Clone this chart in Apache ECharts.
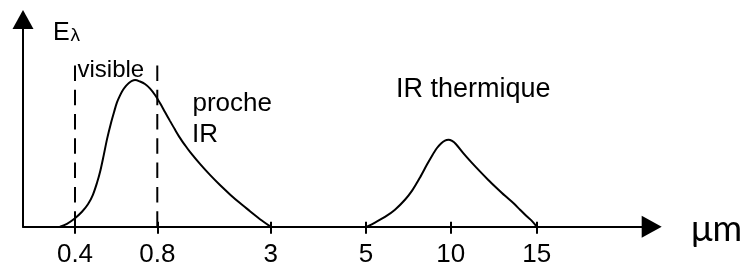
<!DOCTYPE html>
<html>
<head>
<meta charset="utf-8">
<script src="https://cdn.jsdelivr.net/npm/echarts@6/dist/echarts.min.js"></script>
<style>
  html, body { margin: 0; padding: 0; background: #fff; }
  #chart { width: 749px; height: 265px; }
</style>
</head>
<body>
<div id="chart"></div>
<script>
// ---- data (wavelength in µm, spectral emittance Eλ in arbitrary units 0–100) ----
const tickLambda = [0.4, 0.8, 3, 5, 10, 15];
const tickLabels = ['0.4', '0.8', '3', '5', '10', '15'];
// schematic (not to scale) axis position of each tick, axis runs 0–100
const tickAxisPos = [8.27, 21.36, 39.40, 54.56, 68.03, 81.71];

const visibleLambda = [0.327, 0.361, 0.400, 0.434, 0.463, 0.487, 0.507, 0.522, 0.539, 0.556, 0.575, 0.590, 0.604, 0.619, 0.633, 0.648, 0.662, 0.677, 0.692, 0.716, 0.740, 0.765, 0.789, 0.852, 0.949, 1.046, 1.143, 1.240, 1.337, 1.434, 1.628, 1.822, 2.016, 2.210, 2.404, 2.598, 2.792, 3.0];
const visibleE      = [0,     1.4,   4.1,   7.2,   10.8,  15.4,  21.2,  26.5,  34.2,  42.4,  50.1,  55.4,  60.0,  63.4,  66.0,  68.0,  69.4,  70.4,  70.8,  70.1,  68.9,  66.7,  63.6,  59.7,  55.4,  51.1,  46.9,  42.9,  39.4,  36.1,  30.3,  25.0,  20.1,  15.6,  11.4,  7.5,   3.6,   0];

const thermalLambda = [5.06, 5.53, 6.12, 6.71, 7.30, 7.72, 8.19, 8.60, 8.90, 9.19, 9.43, 9.66, 9.87, 10.08, 10.31, 10.73, 11.18, 11.70, 12.17, 12.67, 13.16, 13.64, 14.03, 14.42, 14.73, 15.0];
const thermalE      = [0,    2.0,  4.7,  8.2,  13.0, 17.4, 23.8, 30.0, 34.3, 38.0, 40.2, 41.6, 42.0, 41.4,  39.8,  35.5,  31.3,  26.7,  22.7,  18.7,  14.9,  11.4,  8.2,   5.0,   2.7,   0];

const boundaryLambda = [0.4, 0.8];
const boundaryTopE = 77.8;

// piecewise-linear schematic scale: wavelength -> axis position
function toAxis(l) {
  const n = tickLambda.length;
  let i = 0;
  if (l <= tickLambda[0]) i = 0;
  else if (l >= tickLambda[n - 1]) i = n - 2;
  else { while (l > tickLambda[i + 1]) i++; }
  const t = (l - tickLambda[i]) / (tickLambda[i + 1] - tickLambda[i]);
  return tickAxisPos[i] + t * (tickAxisPos[i + 1] - tickAxisPos[i]);
}
function pairs(ls, es) { return ls.map((l, i) => [toAxis(l), es[i]]); }
function tickLabel(v) {
  for (let i = 0; i < tickAxisPos.length; i++) if (Math.abs(tickAxisPos[i] - v) < 1e-6) return tickLabels[i];
  return '';
}

const black = '#000';
const chart = echarts.init(document.getElementById('chart'), null, { renderer: 'canvas' });
chart.setOption({
  animation: false,
  backgroundColor: '#fff',
  textStyle: { fontFamily: 'Liberation Sans, Arial, sans-serif', color: black },
  grid: { left: 23, right: 97.3, top: 19.6, bottom: 38.3, containLabel: false, outerBoundsMode: 'none' },
  xAxis: [{
    type: 'value', min: 0, max: 100, position: 'bottom',
    axisLine: { show: true, onZero: false, symbol: ['none', 'triangle'], symbolSize: [22, 20],
                lineStyle: { color: black, width: 2 } },
    axisTick: { show: true, inside: false, length: 7, customValues: tickAxisPos,
                lineStyle: { color: black, width: 2 } },
    axisLabel: { show: true, customValues: tickAxisPos, formatter: tickLabel, margin: 15,
                 fontSize: 26, color: black, fontFamily: 'Liberation Sans' },
    splitLine: { show: false }
  }, {
    type: 'value', min: 0, max: 100, position: 'bottom', offset: 0,
    axisLine: { show: false, onZero: false },
    axisTick: { show: true, inside: true, length: 5, customValues: tickAxisPos,
                lineStyle: { color: black, width: 2 } },
    axisLabel: { show: false },
    splitLine: { show: false }
  }],
  yAxis: {
    type: 'value', min: 0, max: 100,
    axisLine: { show: true, onZero: false, symbol: ['none', 'triangle'], symbolSize: [21, 19],
                lineStyle: { color: black, width: 2 } },
    axisTick: { show: false },
    axisLabel: { show: false },
    splitLine: { show: false }
  },
  series: [
    { type: 'line', data: pairs(visibleLambda, visibleE), smooth: 0.3, symbol: 'none',
      lineStyle: { color: black, width: 2 } },
    { type: 'line', data: pairs(thermalLambda, thermalE), smooth: 0.3, symbol: 'none',
      lineStyle: { color: black, width: 2 } },
    ...boundaryLambda.map(l => ({
      type: 'line', data: [[toAxis(l), 0], [toAxis(l), boundaryTopE]], symbol: 'none',
      lineStyle: { color: black, width: 2, type: [15.5, 8.8] }
    }))
  ],
  graphic: [
    { type: 'text', x: 53, y: 33.5, style: { text: 'E', font: '25px "Liberation Sans"', fill: black, verticalAlign: 'middle' } },
    { type: 'text', x: 70.5, y: 35.5, style: { text: 'λ', font: '19px "Liberation Sans"', fill: black, verticalAlign: 'middle' } },
    { type: 'text', x: 77.5, y: 70.2, style: { text: 'visible', font: '24px "Liberation Sans"', fill: black, verticalAlign: 'middle' } },
    { type: 'text', x: 192.5, y: 104, style: { text: 'proche', font: '26px "Liberation Sans"', fill: black, verticalAlign: 'middle' } },
    { type: 'text', x: 192, y: 135.3, style: { text: 'IR', font: '26px "Liberation Sans"', fill: black, verticalAlign: 'middle' } },
    { type: 'text', x: 396, y: 90, style: { text: 'IR thermique', font: '27px "Liberation Sans"', fill: black, verticalAlign: 'middle' } },
    { type: 'text', x: 691, y: 229.5, style: { text: 'μm', font: '36px Lato', fill: black, verticalAlign: 'middle' } }
  ]
});
</script>
</body>
</html>
